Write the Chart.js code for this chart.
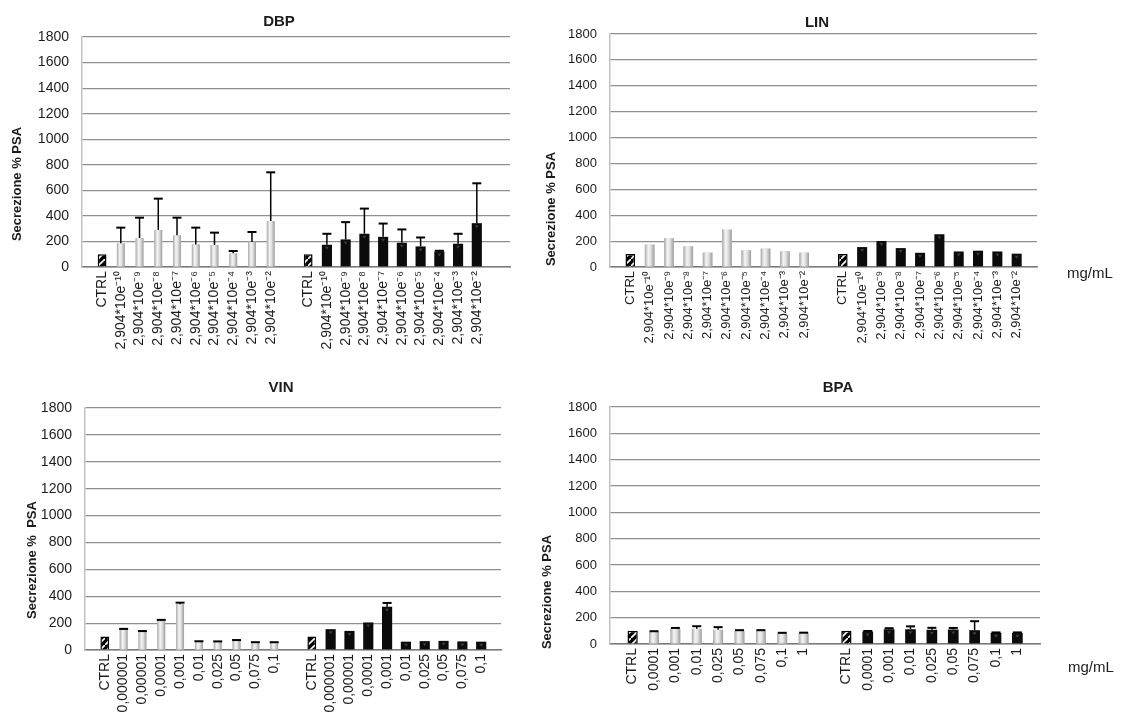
<!DOCTYPE html>
<html lang="it">
<head>
<meta charset="utf-8">
<title>Secrezione % PSA</title>
<script src="https://cdn.jsdelivr.net/npm/chart.js@4.4.1/dist/chart.umd.min.js"></script>
<style>
  html, body { margin: 0; padding: 0; background: #fff; }
  #wrap { position: relative; width: 1124px; height: 715px; overflow: hidden; }
  canvas { position: absolute; }
</style>
</head>
<body>
<div id="wrap">
  <canvas id="dbp" width="560" height="365" style="left:0;top:0"></canvas>
  <canvas id="lin" width="584" height="365" style="left:540px;top:0"></canvas>
  <canvas id="vin" width="560" height="350" style="left:0;top:365px"></canvas>
  <canvas id="bpa" width="584" height="350" style="left:540px;top:365px"></canvas>
</div>
<script>
// concentrazioni (mg/mL)
const dbpLinDoses = ['2,904*10e⁻¹⁰', '2,904*10e⁻⁹', '2,904*10e⁻⁸', '2,904*10e⁻⁷', '2,904*10e⁻⁶',
                     '2,904*10e⁻⁵', '2,904*10e⁻⁴', '2,904*10e⁻³', '2,904*10e⁻²'];
const vinDoses = ['0,000001', '0,00001', '0,0001', '0,001', '0,01', '0,025', '0,05', '0,075', '0,1'];
const bpaDoses = ['0,0001', '0,001', '0,01', '0,025', '0,05', '0,075', '0,1', '1'];

const ctrlValue = 100;

// DBP
const dbpLight = [185, 227, 290, 248, 177, 172, 107, 196, 360];
const dbpLightErr = [123, 159, 245, 138, 131, 97, 18, 78, 381];
const dbpDark = [174, 216, 260, 236, 190, 161, 122, 182, 343];
const dbpDarkErr = [86, 135, 197, 104, 104, 70, 5, 78, 312];

// LIN
const linLight = [173, 222, 160, 111, 289, 129, 142, 121, 111];
const linDark = [154, 201, 146, 110, 253, 120, 126, 120, 103];

// VIN
const vinLight = [152, 137, 215, 340, 62, 62, 70, 56, 56];
const vinLightErr = [5, 4, 9, 12, 3, 2, 4, 2, 2];
const vinDark = [155, 142, 205, 322, 62, 66, 68, 64, 62];
const vinDarkErr = [0, 0, 0, 28, 0, 0, 0, 0, 0];

// BPA
const bpaLight = [92, 115, 115, 108, 100, 100, 80, 83];
const bpaLightErr = [5, 7, 20, 20, 5, 5, 5, 3];
const bpaDark = [95, 112, 112, 108, 110, 105, 85, 85];
const bpaDarkErr = [4, 8, 22, 15, 12, 68, 3, 3];

const yTicksMax = 1800;
const yTicksStep = 200;

const FONT = '"Liberation Sans", Arial, sans-serif';
const TEXT = '#1c1c1c';

// riquadro CTRL: nero con righe bianche diagonali
function ctrlPattern(ctx) {
    const p = document.createElement('canvas');
    p.width = 7; p.height = 7;
    const g = p.getContext('2d');
    g.fillStyle = '#000';
    g.fillRect(0, 0, 7, 7);
    g.strokeStyle = '#fff';
    g.lineWidth = 1.6;
    g.beginPath();
    g.moveTo(-1, 8); g.lineTo(8, -1);
    g.stroke();
    return ctx.createPattern(p, 'repeat');
}

// testi: titolo, asse y, unità
const panelText = {
    id: 'panelText',
    afterDraw(chart, args, o) {
        const c = chart.ctx;
        c.save();
        c.fillStyle = TEXT;
        c.textAlign = 'center';
        c.textBaseline = 'middle';
        c.font = 'bold 15px ' + FONT;
        c.fillText(o.title, o.titleX, o.titleY);
        if (o.unit) {
            c.textAlign = 'left';
            c.font = '15px ' + FONT;
            c.fillText('mg/mL', o.unitX, o.unitY);
        }
        c.translate(o.yTitleX, o.yTitleY);
        c.rotate(-Math.PI / 2);
        c.textAlign = 'center';
        c.font = 'bold 13px ' + FONT;
        c.fillText(o.yTitle, 0, 0);
        c.restore();
    }
};

// sfumatura barre chiare, triangolini, barre di errore
const barDecor = {
    id: 'barDecor',
    afterDatasetsDraw(chart) {
        const c = chart.ctx;
        const yScale = chart.scales.y;
        c.save();
        chart.data.datasets.forEach((ds, di) => {
            const meta = chart.getDatasetMeta(di);
            meta.data.forEach((bar, i) => {
                const p = bar.getProps(['x', 'y', 'base', 'width'], true);
                const l = p.x - p.width / 2;
                if (ds.shade === 'light') {
                    const gr = c.createLinearGradient(l, 0, l + p.width, 0);
                    gr.addColorStop(0, '#a8a8a8');
                    gr.addColorStop(0.35, '#f4f4f4');
                    gr.addColorStop(0.6, '#e2e2e2');
                    gr.addColorStop(1, '#9c9c9c');
                    c.fillStyle = gr;
                    c.fillRect(l, p.y, p.width, p.base - p.y);
                }
                if (ds.shade === 'dark') {
                    c.fillStyle = '#3c3c3c';
                    c.beginPath();
                    c.moveTo(p.x - 2, p.y + 2);
                    c.lineTo(p.x + 2, p.y + 2);
                    c.lineTo(p.x, p.y + 5);
                    c.closePath();
                    c.fill();
                }
                const err = ds.errors ? ds.errors[i] : 0;
                if (err > 0) {
                    const yTop = yScale.getPixelForValue(ds.data[i].y + err);
                    c.strokeStyle = '#000';
                    c.lineWidth = 1.5;
                    c.beginPath();
                    c.moveTo(p.x, p.y);
                    c.lineTo(p.x, yTop);
                    c.stroke();
                    c.lineWidth = 2;
                    c.beginPath();
                    c.moveTo(p.x - 4.5, yTop);
                    c.lineTo(p.x + 4.5, yTop);
                    c.stroke();
                }
            });
        });
        c.restore();
    }
};

function makePanel(id, cfg) {
    const canvas = document.getElementById(id);
    const ctx = canvas.getContext('2d');
    const n = cfg.doses.length;
    const labels = ['CTRL', ...cfg.doses, '', 'CTRL', ...cfg.doses];
    const ticks = labels.map((l, i) => i).filter(i => labels[i] !== '');

    new Chart(ctx, {
        type: 'bar',
        data: {
            datasets: [{
                data: [{ x: 0, y: ctrlValue }, { x: n + 1 + 1, y: ctrlValue }],
                backgroundColor: ctrlPattern(ctx),
                borderColor: '#000',
                borderWidth: 1.5,
                barPercentage: cfg.pct[0]
            }, {
                data: cfg.light.map((v, i) => ({ x: i + 1, y: v })),
                errors: cfg.lightErr,
                shade: 'light',
                backgroundColor: '#d4d4d4',
                barPercentage: cfg.pct[1]
            }, {
                data: cfg.dark.map((v, i) => ({ x: n + 3 + i, y: v })),
                errors: cfg.darkErr,
                shade: 'dark',
                backgroundColor: '#0b0b0b',
                barPercentage: cfg.pct[2]
            }]
        },
        options: {
            responsive: false,
            animation: false,
            devicePixelRatio: 1,
            grouped: false,
            categoryPercentage: 1,
            layout: {
                padding: { left: 0, top: cfg.area.top, right: canvas.width - cfg.area.right, bottom: 0 }
            },
            plugins: {
                legend: { display: false },
                tooltip: { enabled: false },
                panelText: cfg.text
            },
            scales: {
                x: {
                    type: 'linear',
                    min: -0.5,
                    max: labels.length - 0.5 + cfg.extra,
                    grid: { display: false, drawTicks: false },
                    border: { display: true, color: '#7a7a7a', width: 1.5 },
                    afterBuildTicks: s => { s.ticks = ticks.map(v => ({ value: v })); },
                    afterFit: s => { s.height = canvas.height - cfg.area.bottom; },
                    ticks: {
                        autoSkip: false,
                        minRotation: 90,
                        maxRotation: 90,
                        padding: 4,
                        color: TEXT,
                        font: { family: FONT, size: cfg.xFont },
                        callback: v => labels[v]
                    }
                },
                y: {
                    min: 0,
                    max: yTicksMax,
                    afterFit: s => { s.width = cfg.area.left; },
                    grid: { color: '#8f8f8f', lineWidth: 1.2, drawTicks: false },
                    border: { display: true, color: '#c2c2c2', width: 1.5 },
                    ticks: {
                        stepSize: yTicksStep,
                        padding: 13,
                        color: TEXT,
                        font: { family: FONT, size: cfg.yFont },
                        callback: v => String(v)
                    }
                }
            }
        },
        plugins: [barDecor, panelText]
    });
}

makePanel('dbp', {
    doses: dbpLinDoses, light: dbpLight, lightErr: dbpLightErr, dark: dbpDark, darkErr: dbpDarkErr,
    area: { left: 82, top: 37, right: 510, bottom: 267 }, extra: 0.7,
    pct: [0.47, 0.42, 0.54], xFont: 14, yFont: 14,
    text: { title: 'DBP', titleX: 279, titleY: 22, yTitle: 'Secrezione % PSA', yTitleX: 17, yTitleY: 184 }
});

makePanel('lin', {
    doses: dbpLinDoses, light: linLight, lightErr: null, dark: linDark, darkErr: null,
    area: { left: 70, top: 34, right: 497, bottom: 267 }, extra: 0,
    pct: [0.5, 0.5, 0.52], xFont: 13, yFont: 13,
    text: { title: 'LIN', titleX: 277, titleY: 23, yTitle: 'Secrezione % PSA', yTitleX: 11, yTitleY: 209,
            unit: true, unitX: 527, unitY: 274 }
});

makePanel('vin', {
    doses: vinDoses, light: vinLight, lightErr: vinLightErr, dark: vinDark, darkErr: vinDarkErr,
    area: { left: 85, top: 43, right: 501, bottom: 285 }, extra: 0,
    pct: [0.47, 0.42, 0.54], xFont: 14, yFont: 14,
    text: { title: 'VIN', titleX: 281, titleY: 23, yTitle: 'Secrezione %  PSA', yTitleX: 32, yTitleY: 195 }
});

makePanel('bpa', {
    doses: bpaDoses, light: bpaLight, lightErr: bpaLightErr, dark: bpaDark, darkErr: bpaDarkErr,
    area: { left: 70, top: 42, right: 500, bottom: 279 }, extra: 0,
    pct: [0.48, 0.46, 0.5], xFont: 14, yFont: 13,
    text: { title: 'BPA', titleX: 298, titleY: 23, yTitle: 'Secrezione % PSA', yTitleX: 7, yTitleY: 227,
            unit: true, unitX: 528, unitY: 303 }
});
</script>
</body>
</html>
